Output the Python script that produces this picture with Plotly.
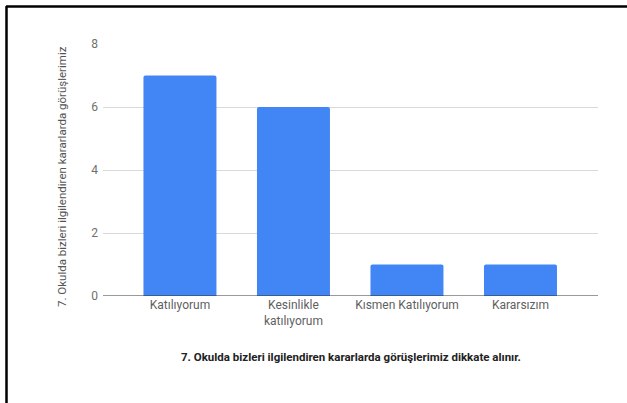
import plotly.graph_objects as go

# -----------------------------
# Data
# -----------------------------
categories = ["Katılıyorum", "Kesinlikle<br>katılıyorum", "Kısmen Katılıyorum", "Kararsızım"]
counts = [7, 6, 1, 1]
y_ticks = [0, 2, 4, 6, 8]

x_title = "7. Okulda bizleri ilgilendiren kararlarda görüşlerimiz dikkate alınır."
y_title = "7. Okulda bizleri ilgilendiren kararlarda görüşlerimiz"

# plot area in pixels
W, H = 627, 403
L, R, T, B = 103, 29, 44, 107
pw, ph = W - L - R, H - T - B


def px_x(x):
    return (x - L) / pw


def px_y(y):
    return (H - B - y) / ph


fig = go.Figure()

fig.add_trace(go.Bar(
    x=list(range(len(categories))),
    y=counts,
    marker=dict(color="#4285F4", line=dict(width=0), cornerradius=2),
    width=0.643,
    hoverinfo="y",
))

fig.update_layout(
    width=W, height=H,
    margin=dict(l=L, r=R, t=T, b=B),
    paper_bgcolor="white",
    plot_bgcolor="white",
    showlegend=False,
    font=dict(family="Roboto, Arial, sans-serif", size=12, color="#444"),
    xaxis=dict(
        tickmode="array",
        tickvals=list(range(len(categories))),
        ticktext=categories,
        range=[-0.678, 3.683],
        showgrid=False,
        zeroline=False,
        showline=False,
        ticks="",
        tickfont=dict(color="#5f5f5f", size=12),
    ),
    yaxis=dict(
        range=[0, 8],
        tickvals=y_ticks,
        showgrid=True,
        gridcolor="#d9d9d9",
        zeroline=False,
        ticks="",
        tickfont=dict(color="#6f6f6f", size=12),
        ticklabelstandoff=4,
    ),
    shapes=[
        # baseline
        dict(type="line", xref="paper", yref="y", x0=0, x1=1, y0=0, y1=0,
             line=dict(color="#333", width=1)),
        # frame (top / left)
        dict(type="line", xref="paper", yref="paper",
             x0=px_x(6), x1=px_x(630), y0=px_y(6.5), y1=px_y(6.5),
             line=dict(color="black", width=2.5)),
        dict(type="line", xref="paper", yref="paper",
             x0=px_x(6.5), x1=px_x(6.5), y0=px_y(6), y1=px_y(410),
             line=dict(color="black", width=2.5)),
    ],
    annotations=[
        dict(text="<b>" + x_title + "</b>", xref="paper", yref="paper",
             x=px_x(351), y=px_y(357), xanchor="center", yanchor="middle",
             showarrow=False, font=dict(size=11.5, color="#222")),
        dict(text=y_title, xref="paper", yref="paper", textangle=-90,
             x=px_x(62), y=px_y(177), xanchor="center", yanchor="middle",
             showarrow=False, font=dict(size=11.5, color="#555")),
    ],
)

fig.write_html("out.html", config={"displayModeBar": False},
               post_script="document.body.style.margin='0';")
